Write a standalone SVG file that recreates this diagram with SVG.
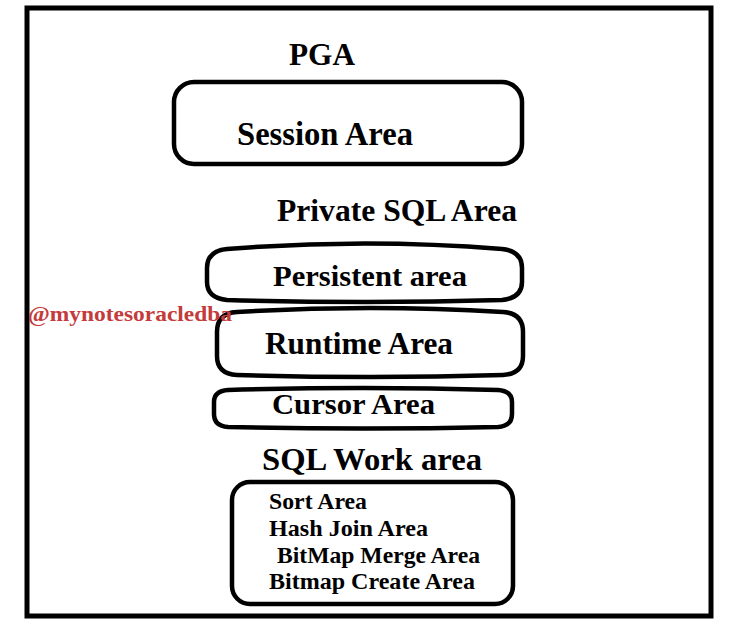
<svg xmlns="http://www.w3.org/2000/svg" width="730" height="628" viewBox="0 0 730 628">
<style>
.box{fill:#ffffff;stroke:#000000;stroke-width:4.5;stroke-linejoin:round}
text{font-family:'Liberation Serif','DejaVu Serif','Times New Roman',serif;font-weight:700}
.t{fill:#000000}
.wm{fill:#c43b3b}
</style>
<rect x="0" y="0" width="730" height="628" fill="#ffffff"/>
<g id="pga">
<rect x="27" y="8" width="684" height="608" fill="none" stroke="#000000" stroke-width="5"/>
<text class="t" x="289" y="65" font-family="Liberation Serif, serif" font-size="31" textLength="66" lengthAdjust="spacingAndGlyphs">PGA</text>
</g>
<g id="session-area">
<rect class="box" x="174" y="82" width="348" height="82" rx="20" ry="20"/>
<text class="t" x="237" y="145" font-family="Liberation Serif, serif" font-size="33" textLength="176" lengthAdjust="spacingAndGlyphs">Session Area</text>
</g>
<g id="private-sql-area">
<text class="t" x="277" y="221" font-family="Liberation Serif, serif" font-size="31" textLength="240" lengthAdjust="spacingAndGlyphs">Private SQL Area</text>
</g>
<g id="persistent-area">
<path class="box" d="M 227 249 Q 365 238 502 249 Q 522 251 522 268 L 522 282 Q 522 298 502 300 Q 365 304 227 300 Q 207 298 207 282 L 207 268 Q 207 251 227 249 Z"/>
<text class="t" x="273" y="286" font-family="Liberation Serif, serif" font-size="30" textLength="194" lengthAdjust="spacingAndGlyphs">Persistent area</text>
</g>
<g id="runtime-area">
<path class="box" d="M 237 312 Q 370 304 503 312 Q 523 313 523 332 L 523 356 Q 523 374 503 375 Q 370 379 237 375 Q 217 374 217 356 L 217 332 Q 217 313 237 312 Z"/>
<text class="t" x="265" y="354" font-family="Liberation Serif, serif" font-size="31" textLength="188" lengthAdjust="spacingAndGlyphs">Runtime Area</text>
</g>
<g id="watermark">
<text class="wm" x="28" y="321" font-family="Liberation Serif, serif" font-size="22" textLength="204" lengthAdjust="spacingAndGlyphs">@mynotesoracledba</text>
</g>
<g id="cursor-area">
<path class="box" d="M 228 390 Q 363 386 498 390 Q 512 391 512 402 L 512 414 Q 512 426 498 427 Q 363 430 228 427 Q 214 426 214 414 L 214 402 Q 214 391 228 390 Z"/>
<text class="t" x="272" y="414" font-family="Liberation Serif, serif" font-size="30" textLength="163" lengthAdjust="spacingAndGlyphs">Cursor Area</text>
</g>
<g id="sql-work-area">
<text class="t" x="262" y="470" font-family="Liberation Serif, serif" font-size="31" textLength="220" lengthAdjust="spacingAndGlyphs">SQL Work area</text>
<rect class="box" x="232" y="482" width="281" height="122" rx="18" ry="18"/>
<text class="t" x="269" y="509" font-family="Liberation Serif, serif" font-size="23" textLength="98" lengthAdjust="spacingAndGlyphs">Sort Area</text>
<text class="t" x="269" y="536" font-family="Liberation Serif, serif" font-size="23" textLength="159" lengthAdjust="spacingAndGlyphs">Hash Join Area</text>
<text class="t" x="277" y="563" font-family="Liberation Serif, serif" font-size="23" textLength="203" lengthAdjust="spacingAndGlyphs">BitMap Merge Area</text>
<text class="t" x="269" y="589" font-family="Liberation Serif, serif" font-size="23" textLength="206" lengthAdjust="spacingAndGlyphs">Bitmap Create Area</text>
</g>
<g id="connectors"></g>
</svg>
